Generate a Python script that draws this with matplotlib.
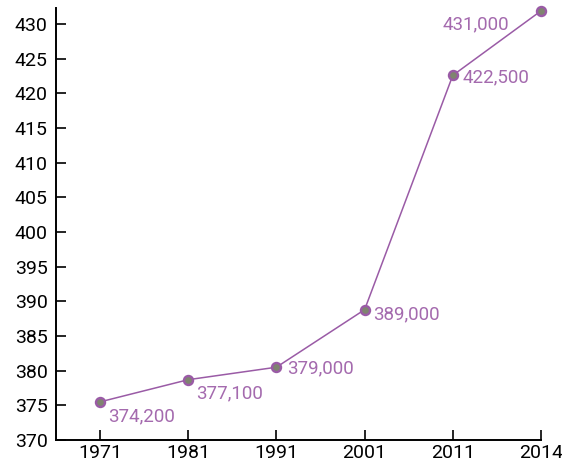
import matplotlib.pyplot as plt

years = ["1971", "1981", "1991", "2001", "2011", "2014"]
values = [375.5, 378.7, 380.5, 388.8, 422.6, 431.9]
labels = ["374,200", "377,100", "379,000", "389,000", "422,500", "431,000"]
yticks = list(range(370, 431, 5))

plt.rcParams["font.family"] = ["Roboto", "DejaVu Sans"]
purple = "#9a5ba6"
text_purple = "#a46aae"

fig = plt.figure(figsize=(5.62, 4.72), dpi=100)
ax = fig.add_axes([0.0996, 0.0678, 0.863, 0.915])

x = list(range(len(years)))
ax.plot(x, values, color=purple, linewidth=1.1, marker="o", markersize=6.5,
        markerfacecolor="#7f8470", markeredgecolor=purple, markeredgewidth=1.7,
        clip_on=False, zorder=3)

# label offsets in pixels (dx, dy, ha)
offsets = [(8, -14, "left"), (8, -14, "left"), (11, -1, "left"),
           (9, -5, "left"), (10, -2, "left"), (-32, -13, "right")]
for xi, v, lab, (dx, dy, ha) in zip(x, values, labels, offsets):
    ax.annotate(lab, (xi, v), xytext=(dx, dy), textcoords="offset pixels",
                ha=ha, va="center", color=text_purple, fontsize=13.5)

ax.set_xlim(-0.5, 5)
ax.set_ylim(370, 432.3)
ax.set_xticks(x)
ax.set_xticklabels(years)
ax.set_yticks(yticks)
ax.tick_params(direction="in", length=7, width=1.2, labelsize=14, colors="black")
ax.tick_params(axis="y", pad=6)
ax.tick_params(axis="x", pad=3)
for s in ["top", "right"]:
    ax.spines[s].set_visible(False)
for s in ["left", "bottom"]:
    ax.spines[s].set_linewidth(1.4)

fig.savefig("out.png", dpi=100)
